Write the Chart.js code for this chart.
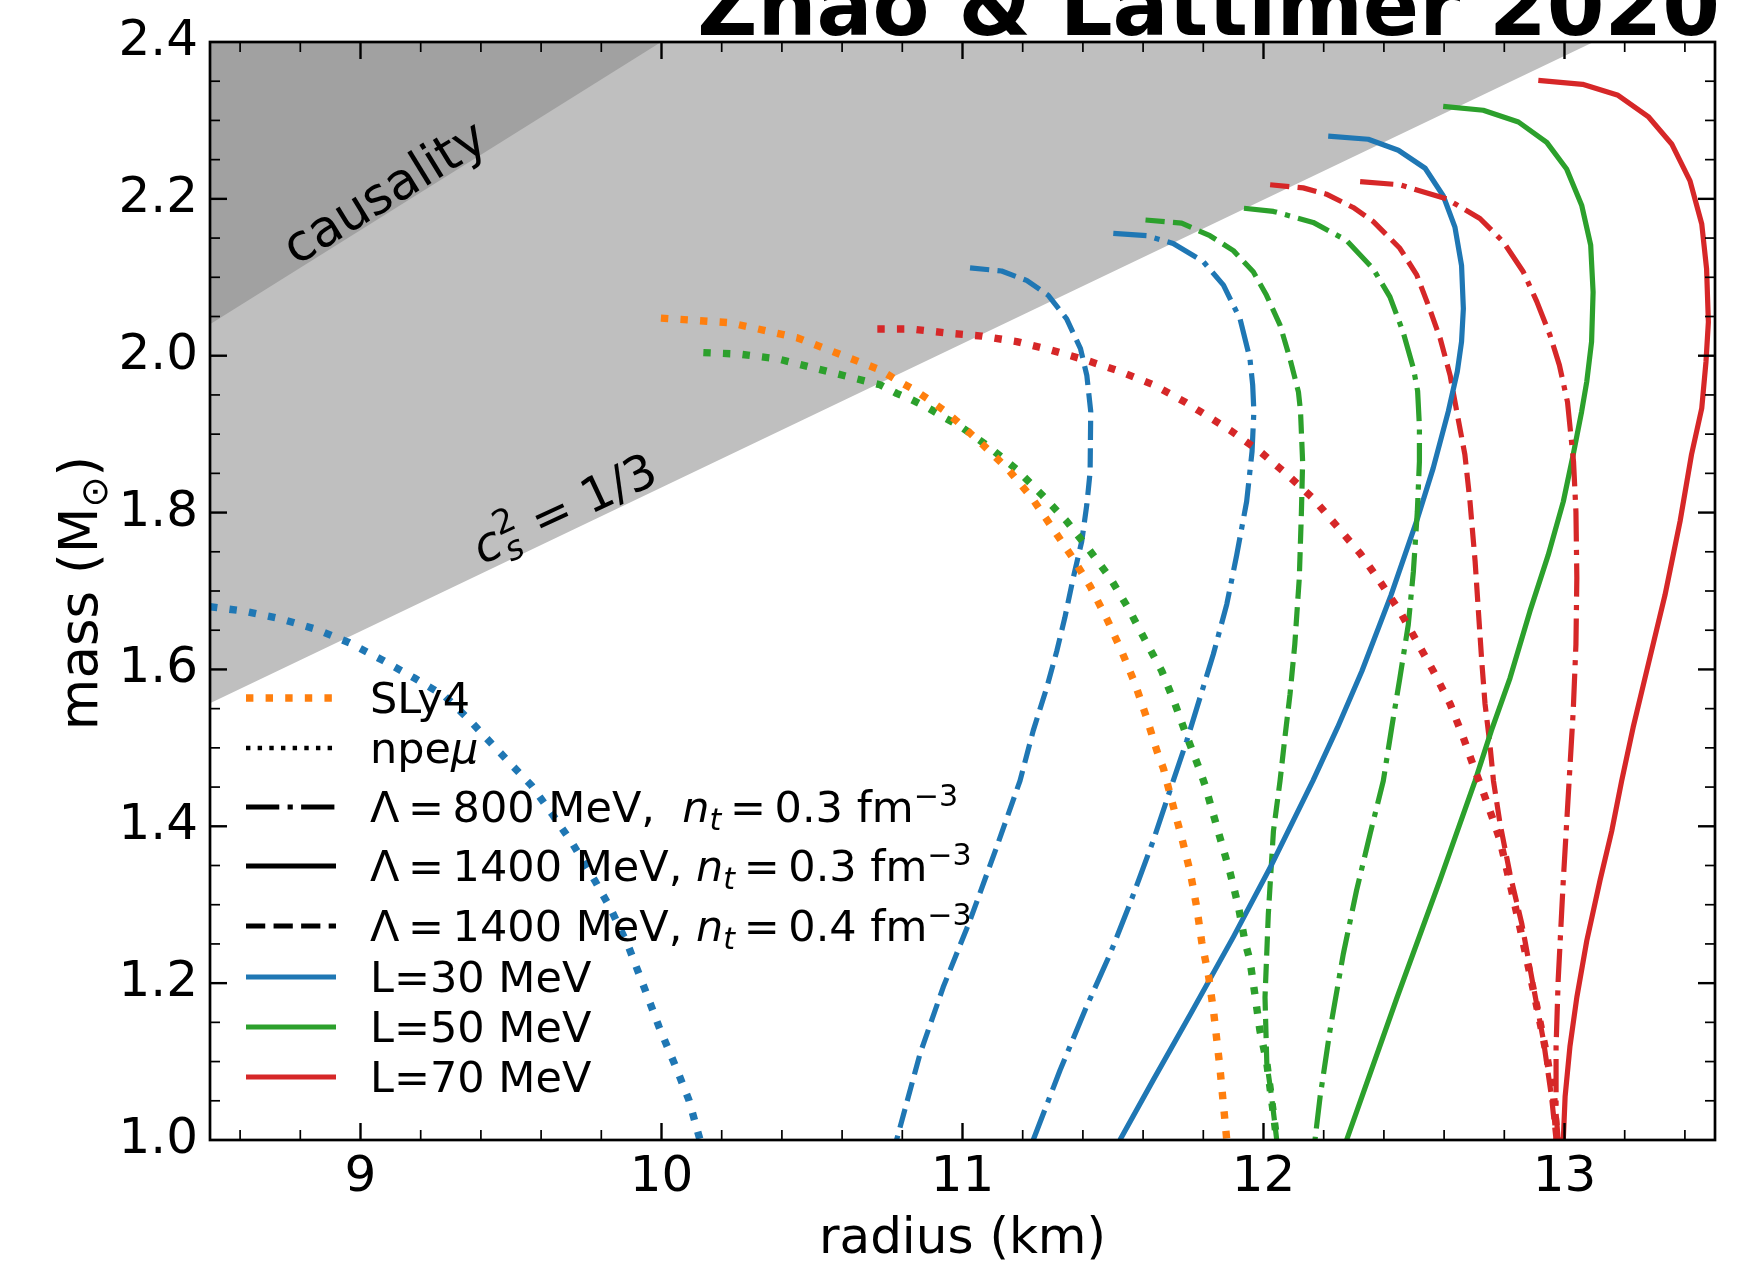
<!DOCTYPE html>
<html>
<head>
<meta charset="utf-8">
<title>Mass-radius relations</title>
<script src="https://cdn.jsdelivr.net/npm/chart.js@4.4.1/dist/chart.umd.min.js"></script>
<style>
  html, body { margin: 0; padding: 0; background: #fff; }
  #wrap { width: 1757px; height: 1263px; }
</style>
</head>
<body>
<div id="wrap"><canvas id="mr" width="1757" height="1263"></canvas></div>
<script>
// ---- axis ranges and ticks ----
const radiusRange = [8.5, 13.5];
const massRange = [1.0, 2.4];
const radiusTicks = [9, 10, 11, 12, 13];
const massTicks = [1.0, 1.2, 1.4, 1.6, 1.8, 2.0, 2.2, 2.4];

// ---- excluded regions: upper edges as M = k R lines, [radius km, mass Msun] ----
const causalityEdge = [[8.5, 2.040], [13.5, 3.241]];
const conformalEdge = [[8.5, 1.557], [13.5, 2.474]];

// ---- mass-radius curves, [radius km, mass Msun] ----
const sly4 = [[9.998,2.048],[10.228,2.042],[10.45,2.023],[10.726,1.982],[10.781,1.969],[10.838,1.957],[10.888,1.944],[10.936,1.931],[10.98,1.917],[11.069,1.886],[11.152,1.855],[11.23,1.819],[11.296,1.782],[11.363,1.744],[11.424,1.706],[11.479,1.665],[11.529,1.623],[11.574,1.581],[11.612,1.538],[11.646,1.496],[11.668,1.473],[11.697,1.430],[11.728,1.386],[11.757,1.341],[11.778,1.297],[11.795,1.252],[11.818,1.208],[11.835,1.161],[11.855,1.093],[11.878,1.0]];

// npe-mu matter, L = 30 / 50 / 70 MeV
const npemuL30 = [[8.5,1.680],[8.619,1.674],[8.74,1.664],[8.854,1.651],[8.963,1.634],[9.077,1.611],[9.179,1.589],[9.28,1.566],[9.363,1.535],[9.483,1.486],[9.568,1.452],[9.636,1.416],[9.706,1.377],[9.781,1.329],[9.831,1.295],[9.891,1.246],[9.942,1.195],[9.992,1.144],[10.052,1.089],[10.091,1.051],[10.128,1.0]];
const npemuL50 = [[10.139,2.004],[10.259,2.002],[10.386,1.996],[10.726,1.963],[10.781,1.952],[10.831,1.944],[10.888,1.933],[10.936,1.922],[10.993,1.910],[11.087,1.884],[11.18,1.855],[11.263,1.823],[11.346,1.789],[11.418,1.754],[11.49,1.717],[11.551,1.678],[11.606,1.638],[11.662,1.598],[11.706,1.556],[11.745,1.515],[11.789,1.471],[11.806,1.452],[11.855,1.386],[11.889,1.341],[11.917,1.297],[11.939,1.252],[11.955,1.229],[11.972,1.184],[11.988,1.140],[12.011,1.098],[12.027,1.051],[12.044,1.0]];
const npemuL70 = [[10.717,2.034],[10.83,2.034],[10.947,2.029],[11.064,2.025],[11.18,2.018],[11.296,2.007],[11.413,1.994],[11.523,1.980],[11.634,1.963],[11.739,1.941],[11.789,1.929],[11.889,1.905],[11.988,1.878],[12.077,1.849],[12.165,1.818],[12.243,1.783],[12.321,1.748],[12.387,1.712],[12.453,1.674],[12.509,1.636],[12.564,1.598],[12.62,1.556],[12.664,1.513],[12.703,1.471],[12.725,1.449],[12.764,1.407],[12.786,1.382],[12.819,1.327],[12.852,1.271],[12.885,1.212],[12.913,1.161],[12.942,1.106],[12.964,1.055],[12.976,1.0]];

// Lambda = 800 MeV, n_t = 0.3 fm^-3
const lam800L30 = [[11.501,2.156],[11.612,2.153],[11.70,2.143],[11.80,2.120],[11.867,2.090],[11.922,2.047],[11.955,1.996],[11.964,1.963],[11.968,1.929],[11.962,1.878],[11.944,1.814],[11.911,1.746],[11.878,1.683],[11.833,1.619],[11.789,1.564],[11.745,1.509],[11.70,1.458],[11.634,1.382],[11.556,1.301],[11.49,1.237],[11.412,1.170],[11.324,1.089],[11.235,1.0]];
const lam800L50 = [[11.935,2.188],[12.033,2.184],[12.165,2.170],[12.276,2.147],[12.364,2.111],[12.42,2.075],[12.464,2.030],[12.498,1.984],[12.512,1.955],[12.518,1.910],[12.518,1.865],[12.511,1.801],[12.498,1.725],[12.481,1.657],[12.453,1.589],[12.426,1.526],[12.398,1.458],[12.354,1.390],[12.309,1.318],[12.265,1.237],[12.221,1.140],[12.188,1.055],[12.171,1.0]];
const lam800L70 = [[12.321,2.222],[12.453,2.218],[12.608,2.200],[12.719,2.175],[12.797,2.145],[12.863,2.107],[12.908,2.069],[12.952,2.026],[12.983,1.988],[13.010,1.941],[13.030,1.865],[13.038,1.801],[13.041,1.717],[13.038,1.632],[13.029,1.547],[13.016,1.462],[12.996,1.331],[12.979,1.204],[12.972,1.119],[12.972,1.034],[12.979,1.0]];

// Lambda = 1400 MeV, n_t = 0.3 fm^-3
const lam1400L30 = [[12.215,2.280],[12.348,2.276],[12.448,2.262],[12.537,2.239],[12.597,2.204],[12.636,2.164],[12.658,2.115],[12.664,2.060],[12.658,2.018],[12.644,1.980],[12.614,1.929],[12.564,1.857],[12.512,1.793],[12.424,1.695],[12.327,1.598],[12.246,1.526],[12.164,1.458],[12.023,1.348],[11.90,1.259],[11.758,1.161],[11.633,1.076],[11.523,1.0]];
const lam1400L50 = [[12.597,2.318],[12.73,2.313],[12.847,2.298],[12.941,2.272],[13.007,2.238],[13.057,2.192],[13.087,2.141],[13.095,2.081],[13.09,2.018],[13.074,1.967],[13.057,1.929],[13.029,1.874],[12.996,1.814],[12.946,1.746],[12.885,1.674],[12.819,1.589],[12.757,1.522],[12.703,1.458],[12.586,1.331],[12.444,1.182],[12.276,1.0]];
const lam1400L70 = [[12.913,2.351],[13.06,2.346],[13.178,2.332],[13.278,2.305],[13.356,2.270],[13.417,2.223],[13.456,2.168],[13.472,2.111],[13.478,2.043],[13.47,1.992],[13.456,1.933],[13.422,1.874],[13.384,1.789],[13.334,1.695],[13.273,1.598],[13.228,1.526],[13.19,1.458],[13.157,1.394],[13.118,1.331],[13.074,1.254],[13.041,1.182],[13.018,1.119],[13.002,1.055],[12.996,1.0]];

// Lambda = 1400 MeV, n_t = 0.4 fm^-3
const lam1400nt4L30 = [[11.025,2.112],[11.13,2.108],[11.213,2.096],[11.285,2.077],[11.346,2.047],[11.392,2.009],[11.413,1.975],[11.426,1.929],[11.424,1.852],[11.413,1.810],[11.396,1.763],[11.368,1.717],[11.34,1.666],[11.313,1.623],[11.28,1.577],[11.235,1.522],[11.191,1.458],[11.113,1.373],[11.025,1.280],[10.936,1.195],[10.859,1.110],[10.781,1.0]];
const lam1400nt4L50 = [[11.608,2.173],[11.728,2.169],[11.822,2.153],[11.90,2.134],[11.966,2.107],[12.01,2.077],[12.055,2.039],[12.088,1.996],[12.116,1.954],[12.123,1.929],[12.13,1.865],[12.126,1.801],[12.119,1.717],[12.104,1.632],[12.088,1.568],[12.071,1.513],[12.055,1.458],[12.033,1.394],[12.016,1.288],[12.005,1.182],[12.011,1.098],[12.027,1.055],[12.044,1.0]];
const lam1400nt4L70 = [[12.022,2.218],[12.132,2.214],[12.209,2.206],[12.298,2.189],[12.365,2.171],[12.453,2.137],[12.509,2.103],[12.548,2.064],[12.587,2.022],[12.62,1.975],[12.642,1.929],[12.669,1.874],[12.686,1.814],[12.703,1.738],[12.714,1.674],[12.725,1.611],[12.736,1.556],[12.752,1.505],[12.764,1.458],[12.786,1.403],[12.819,1.339],[12.858,1.276],[12.897,1.195],[12.93,1.127],[12.957,1.055],[12.972,1.0]];

// ---- styling ----
const FONT = '"DejaVu Sans"';
const C = { blue: '#1f77b4', orange: '#ff7f0e', green: '#2ca02c', red: '#d62728', black: '#000000' };
const LW = 5.2, DOT_LW = 7.4;
const STYLES = {
  solid:   { width: LW, dash: [] },
  dashed:  { width: LW, dash: [3.7 * LW, 1.6 * LW] },
  dashdot: { width: LW, dash: [6.4 * LW, 1.6 * LW, 1.0 * LW, 1.6 * LW] },
  dotted:  { width: DOT_LW, dash: [1.0 * DOT_LW, 1.65 * DOT_LW] }
};

function curve(points, color, style) {
  const s = STYLES[style];
  return {
    data: points.map(([x, y]) => ({ x, y })),
    borderColor: color,
    borderWidth: s.width,
    borderDash: s.dash,
    borderCapStyle: 'butt',
    borderJoinStyle: 'round',
    pointRadius: 0,
    tension: 0,
    fill: false,
    clip: 0,
    order: 0
  };
}
function region(points, color, order) {
  return {
    data: points.map(([x, y]) => ({ x, y })),
    borderWidth: 0,
    borderColor: 'rgba(0,0,0,0)',
    backgroundColor: color,
    pointRadius: 0,
    tension: 0,
    fill: 'end',
    clip: 0,
    order
  };
}

const datasets = [
  curve(sly4, C.orange, 'dotted'),
  curve(npemuL30, C.blue, 'dotted'),
  curve(npemuL50, C.green, 'dotted'),
  curve(npemuL70, C.red, 'dotted'),
  curve(lam800L30, C.blue, 'dashdot'),
  curve(lam800L50, C.green, 'dashdot'),
  curve(lam800L70, C.red, 'dashdot'),
  curve(lam1400L30, C.blue, 'solid'),
  curve(lam1400L50, C.green, 'solid'),
  curve(lam1400L70, C.red, 'solid'),
  curve(lam1400nt4L30, C.blue, 'dashed'),
  curve(lam1400nt4L50, C.green, 'dashed'),
  curve(lam1400nt4L70, C.red, 'dashed'),
  region(causalityEdge, '#a1a1a1', 9),
  region(conformalEdge, '#bfbfbf', 10)
];

// ---- legend rows: handle style + rich-text label ----
const TS = '\u2009';  // thin space around relations
const legendRows = [
  { color: C.orange, style: 'dotted', width: DOT_LW, text: [['SLy4', 'r']] },
  { color: C.black, style: 'dotted', width: 4.4, text: [['npe', 'r'], ['μ', 'i']] },
  { color: C.black, style: 'dashdot', width: LW, text: [[`Λ${TS}=${TS}800 MeV,  `, 'r'], ['n', 'i'], ['t', 'subi'], [`${TS}=${TS}0.3 fm`, 'r'], ['−3', 'sup']] },
  { color: C.black, style: 'solid', width: LW, text: [[`Λ${TS}=${TS}1400 MeV, `, 'r'], ['n', 'i'], ['t', 'subi'], [`${TS}=${TS}0.3 fm`, 'r'], ['−3', 'sup']] },
  { color: C.black, style: 'dashed', width: LW, text: [[`Λ${TS}=${TS}1400 MeV, `, 'r'], ['n', 'i'], ['t', 'subi'], [`${TS}=${TS}0.4 fm`, 'r'], ['−3', 'sup']] },
  { color: C.blue, style: 'solid', width: LW, text: [['L=30 MeV', 'r']] },
  { color: C.green, style: 'solid', width: LW, text: [['L=50 MeV', 'r']] },
  { color: C.red, style: 'solid', width: LW, text: [['L=70 MeV', 'r']] }
];
const legendRowY = [698, 748, 807, 866, 926, 977, 1027, 1077];

// draws a run of text pieces (regular / italic / sub / sup) starting at x, baseline y
function richText(ctx, x, y, parts, size, measureOnly) {
  let cx = x;
  for (const [t, k] of parts) {
    let fs = size, dy = 0, style = '';
    if (k === 'i') style = 'italic ';
    if (k === 'sub' || k === 'subi') { fs = size * 0.7; dy = size * 0.18; }
    if (k === 'subi') style = 'italic ';
    if (k === 'sup') { fs = size * 0.7; dy = -size * 0.38; }
    ctx.font = `${style}${fs}px ${FONT}`;
    if (!measureOnly) ctx.fillText(t, cx, y + dy);
    cx += ctx.measureText(t).width;
  }
  return cx - x;
}

const decorations = {
  id: 'decorations',
  afterDraw(chart) {
    const { ctx, chartArea: a, scales: { x, y } } = chart;
    ctx.save();
    ctx.fillStyle = '#000';
    ctx.textAlign = 'left';
    ctx.textBaseline = 'alphabetic';

    // region annotations
    ctx.save();
    ctx.translate(296, 266);
    ctx.rotate(-31.5 * Math.PI / 180);
    ctx.font = `51px ${FONT}`;
    ctx.fillText('causality', 0, 0);
    ctx.restore();

    ctx.save();
    ctx.translate(482, 565);
    ctx.rotate(-25 * Math.PI / 180);
    const as = 48;
    ctx.font = `italic ${as}px ${FONT}`;
    ctx.fillText('c', 0, 0);
    let cx = ctx.measureText('c').width + 1;
    ctx.font = `${as * 0.7}px ${FONT}`;
    ctx.fillText('2', cx, -as * 0.40);
    const w2 = ctx.measureText('2').width;
    ctx.font = `italic ${as * 0.7}px ${FONT}`;
    ctx.fillText('s', cx, as * 0.20);
    cx += Math.max(w2, ctx.measureText('s').width);
    ctx.font = `${as}px ${FONT}`;
    ctx.fillText(' = 1/3', cx, 0);
    ctx.restore();

    // legend
    const hx0 = 246, hx1 = 336, tx = 370, lsize = 43;
    legendRows.forEach((row, i) => {
      const yy = legendRowY[i];
      const s = STYLES[row.style];
      const w = row.width;
      ctx.save();
      ctx.strokeStyle = row.color;
      ctx.lineWidth = w;
      ctx.lineCap = 'butt';
      ctx.setLineDash(row.style === 'solid' ? [] : s.dash.map(d => d * w / s.width));
      ctx.beginPath();
      ctx.moveTo(hx0, yy);
      ctx.lineTo(hx1, yy);
      ctx.stroke();
      ctx.restore();
      richText(ctx, tx, yy + 15, row.text, lsize);
    });

    // title
    ctx.font = `bold 83px ${FONT}`;
    ctx.textAlign = 'right';
    ctx.fillText('Zhao & Lattimer 2020', 1720, 35);

    // axis titles
    ctx.textAlign = 'left';
    ctx.font = `50px ${FONT}`;
    const xt = 'radius (km)';
    ctx.fillText(xt, (a.left + a.right) / 2 - ctx.measureText(xt).width / 2, 1253);

    ctx.save();
    ctx.translate(97, (a.top + a.bottom) / 2 + 2);
    ctx.rotate(-Math.PI / 2);
    const yParts = [['mass (M', 'r'], ['⊙', 'sub'], [')', 'r']];
    const yw = richText(ctx, 0, 0, yParts, 53, true);
    richText(ctx, -yw / 2, 0, yParts, 53);
    ctx.restore();

    // frame and inward ticks on all four sides
    ctx.strokeStyle = '#000';
    ctx.setLineDash([]);
    ctx.lineCap = 'butt';
    const seg = (x1, y1, x2, y2) => { ctx.beginPath(); ctx.moveTo(x1, y1); ctx.lineTo(x2, y2); ctx.stroke(); };
    const majLen = 17, minLen = 10;
    for (let k = 43; k <= 67; k++) {
      const v = k / 5;
      const major = k % 5 === 0;
      const px = x.getPixelForValue(v);
      const len = major ? majLen : minLen;
      ctx.lineWidth = major ? 2.4 : 1.7;
      seg(px, a.bottom, px, a.bottom - len);
      seg(px, a.top, px, a.top + len);
    }
    for (let k = 21; k <= 47; k++) {
      const v = k / 20;
      const major = k % 4 === 0;
      const py = y.getPixelForValue(v);
      const len = major ? majLen : minLen;
      ctx.lineWidth = major ? 2.4 : 1.7;
      seg(a.left, py, a.left + len, py);
      seg(a.right, py, a.right - len, py);
    }
    ctx.lineWidth = 2.7;
    ctx.strokeRect(a.left, a.top, a.right - a.left, a.bottom - a.top);
    ctx.restore();
  }
};

new Chart(document.getElementById('mr'), {
  type: 'line',
  data: { datasets },
  options: {
    responsive: false,
    devicePixelRatio: 1,
    animation: false,
    events: [],
    layout: { padding: { top: 40, right: 42, left: 0, bottom: 0 } },
    plugins: { legend: { display: false }, tooltip: { enabled: false } },
    scales: {
      x: {
        type: 'linear',
        position: 'bottom',
        min: radiusRange[0],
        max: radiusRange[1],
        afterBuildTicks: s => { s.ticks = radiusTicks.map(v => ({ value: v })); },
        afterFit: s => { s.height = 123; },
        grid: { display: false, drawTicks: false, tickLength: 0 },
        border: { display: false },
        ticks: {
          color: '#000',
          font: { family: 'DejaVu Sans', size: 50 },
          padding: 8,
          maxRotation: 0,
          autoSkip: false,
          callback: v => String(v)
        }
      },
      y: {
        type: 'linear',
        position: 'left',
        min: massRange[0],
        max: massRange[1],
        afterBuildTicks: s => { s.ticks = massTicks.map(v => ({ value: v })); },
        afterFit: s => { s.width = 210; },
        grid: { display: false, drawTicks: false, tickLength: 0 },
        border: { display: false },
        ticks: {
          color: '#000',
          font: { family: 'DejaVu Sans', size: 50 },
          padding: 12,
          autoSkip: false,
          callback: v => Number(v).toFixed(1)
        }
      }
    }
  },
  plugins: [decorations]
});
</script>
</body>
</html>
